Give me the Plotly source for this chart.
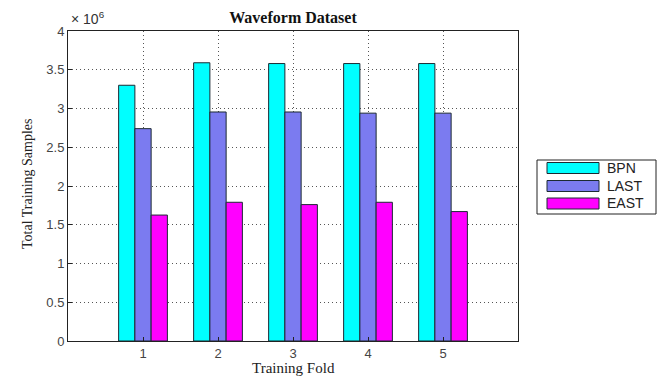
import plotly.graph_objects as go

# Data: total training samples per fold (in units of 10^6)
folds = [1, 2, 3, 4, 5]
series_names = ["BPN", "LAST", "EAST"]
bpn = [3.30, 3.59, 3.58, 3.58, 3.58]
last = [2.74, 2.955, 2.955, 2.94, 2.94]
east = [1.625, 1.79, 1.76, 1.79, 1.67]
series_values = [bpn, last, east]
series_colors = ["#00FFFF", "#7B7BF0", "#FF00FF"]
y_ticks = [0, 0.5, 1, 1.5, 2, 2.5, 3, 3.5, 4]
y_tick_labels = ["0", "0.5", "1", "1.5", "2", "2.5", "3", "3.5", "4"]

fig = go.Figure()
for name, vals, col in zip(series_names, series_values, series_colors):
    fig.add_trace(go.Bar(
        x=folds, y=vals, name=name,
        marker=dict(color=col, line=dict(color="#1c2a33", width=1)),
        showlegend=False,
    ))

# plot area in pixels
L, R, T, B = 68, 518, 31, 341
W, H = R - L, B - T


def px(x):
    return (x - L) / W


def py(y):
    return (B - y) / H


SERIF = "Liberation Serif, Times New Roman, serif"
SANS = "Liberation Sans, Arial, sans-serif"

# hand-built legend with wide swatches
shapes = [dict(type="rect", xref="paper", yref="paper",
               x0=px(537), x1=px(656), y0=py(214), y1=py(160),
               line=dict(color="#222", width=1), fillcolor="white")]
annotations = []
row_y = [168, 186, 203.5]
for name, col, ry in zip(series_names, series_colors, row_y):
    shapes.append(dict(type="rect", xref="paper", yref="paper",
                       x0=px(547), x1=px(599), y0=py(ry + 5.5), y1=py(ry - 5.5),
                       line=dict(color="#1c2a33", width=1), fillcolor=col))
    annotations.append(dict(text=name, xref="paper", yref="paper",
                            x=px(605), y=py(ry), xanchor="left", yanchor="middle",
                            showarrow=False,
                            font=dict(family=SANS, size=14, color="#222")))

# exponent label
annotations.append(dict(text="× 10<sup>6</sup>", xref="paper", yref="paper",
                        x=px(69), y=py(18), xanchor="left", yanchor="middle",
                        showarrow=False,
                        font=dict(family=SANS, size=14, color="#333")))

# axis titles
annotations.append(dict(text="Training Fold", xref="paper", yref="paper",
                        x=px(293), y=py(368), xanchor="center", yanchor="middle",
                        showarrow=False, borderpad=0,
                        font=dict(family=SERIF, size=15, color="#222")))
annotations.append(dict(text="Total Training Samples", xref="paper", yref="paper",
                        x=px(27), y=py(184), xanchor="center", yanchor="middle",
                        textangle=-90, showarrow=False,
                        font=dict(family=SERIF, size=14, color="#222")))

grid = dict(showgrid=True, gridcolor="#555", griddash="1px,3px", gridwidth=1,
            showline=True, linecolor="#222", linewidth=1, mirror=True,
            ticks="inside", ticklen=4, tickcolor="#222", zeroline=False,
            tickfont=dict(family=SANS, size=13, color="#444"))

fig.update_layout(
    width=664, height=376,
    margin=dict(l=L, r=664 - R, t=T, b=376 - B),
    paper_bgcolor="white", plot_bgcolor="white",
    barmode="group", bargap=0.35, bargroupgap=0,
    title=dict(text="<b>Waveform Dataset</b>", x=px(293), xref="paper",
               y=1 - 17 / 376, yref="container", xanchor="center", yanchor="middle",
               font=dict(family=SERIF, size=16, color="#111")),
    shapes=shapes, annotations=annotations,
    xaxis=dict(range=[0, 6], tickvals=folds, ticktext=[str(f) for f in folds], **grid),
    yaxis=dict(range=[0, 4], tickvals=y_ticks, ticktext=y_tick_labels, **grid),
)

fig.write_html("out.html")
